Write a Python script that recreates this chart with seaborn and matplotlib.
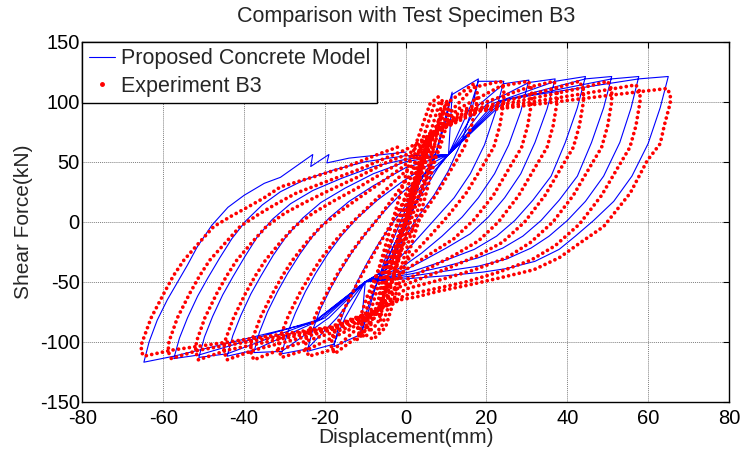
import matplotlib
matplotlib.use("Agg")
import matplotlib.pyplot as plt
import seaborn as sns
import pandas as pd
from matplotlib.lines import Line2D

# ---------------- data ----------------
# Model (blue): peaks of each displacement level
model_pos_peaks = [(3.5, 38), (7, 52), (11.5, 108), (18, 119), (24.3, 117), (30.5, 118),
                   (37, 119), (44.5, 121), (51, 121), (57.7, 121), (65, 121)]
model_neg_peaks = [(-3.5, -36), (-7, -50), (-11.2, -96), (-17.8, -104), (-24.4, -108), (-30.7, -110),
                   (-37.6, -109), (-44.2, -112), (-51.2, -113), (-57.4, -114), (-64.8, -117)]
# vertices before each positive peak (reloading)
model_pos_reload = [
    [(0, 0)], [], [(7, 52)],
    [(10.6, 56), (11.5, 106)],
    [(10.6, 56), (16, 96), (18, 117)],
    [(10.6, 56), (18, 97), (24.3, 115)],
    [(10.6, 56), (20, 98), (30.5, 116)],
    [(10.6, 56), (22, 99), (37, 117)],
    [(10.6, 56), (23, 100), (44.5, 119)],
    [(10.6, 56), (24, 101), (51, 119)],
    [(10.6, 56), (25, 102), (57.7, 119)],
]
# vertices after each positive peak (unloading)
model_pos_unload = [
    [(1.5, 15), (-0.5, -8), (-2, -22)],
    [(5, 35), (2.5, 15), (0, -5), (-3, -25), (-5, -40)],
    [(10, 85), (8, 62), (5.5, 40), (3, 20), (0, 0), (-3, -20), (-5, -36)],
    [(16.5, 95), (14, 68), (10.5, 42), (7, 22), (3, 4), (0, -12), (-3, -28), (-6, -42)],
    [(22.3, 92), (19.5, 64), (16, 40), (12, 20), (8, 5), (4, -10), (0, -25), (-4, -38)],
    [(28.5, 92), (25.5, 64), (22, 40), (18, 20), (14, 4), (9, -12), (4, -26), (-1, -38)],
    [(35, 94), (32, 66), (28.5, 40), (24.5, 20), (20.5, 4), (16, -10), (10, -22), (4, -33), (0, -40)],
    [(42.5, 95), (39.5, 66), (36, 38), (31.5, 18), (27, 1), (22.5, -12), (17, -23), (10, -32), (2, -41)],
    [(49, 95), (46, 66), (42.5, 38), (38, 18), (33.5, 1), (29, -12), (24, -22), (18, -30), (10, -37), (2, -43)],
    [(55.8, 95), (53, 66), (49, 38), (44.5, 17), (40, 1), (35.5, -12), (31, -22), (25, -31), (18, -37),
     (10, -41), (2, -45)],
    [(63, 95), (60, 65), (56, 38), (51.5, 17), (46.5, 1), (42, -12), (38, -23), (32, -33), (25, -39),
     (19, -42), (10, -45), (2, -47)],
]
# vertices before each negative peak (reloading)
model_neg_reload = [
    [], [], [(-7, -50)],
    [(-10, -50), (-11.2, -94)],
    [(-10, -50), (-15, -80), (-17.8, -102)],
    [(-10, -50), (-17, -80), (-24.4, -106)],
    [(-10, -50), (-19, -80), (-30.7, -108)],
    [(-10, -50), (-20, -80), (-37.6, -107)],
    [(-10, -50), (-21, -81), (-44.2, -110)],
    [(-10, -50), (-22, -82), (-51.2, -111)],
    [(-10, -50), (-23, -84), (-57.4, -112)],
]
# vertices after each negative peak (unloading)
model_neg_unload = [
    [(-1.5, -12), (0.5, 10), (2, 25)],
    [(-5, -30), (-2.5, -10), (0, 10), (3, 30), (5, 42)],
    [(-10, -78), (-8, -58), (-5.5, -38), (-3, -20), (0, 0), (3, 18), (6, 34), (8, 45)],
    [(-16.5, -86), (-14.5, -68), (-12, -50), (-9.5, -34), (-6.5, -17), (-3, 0), (1, 18), (5, 34), (8, 46)],
    [(-23, -90), (-21, -72), (-18.5, -55), (-16, -40), (-13, -24), (-9.5, -8), (-5.5, 8), (-1, 24), (4, 38),
     (8, 48)],
    [(-29.3, -93), (-27.3, -76), (-24.8, -58), (-22.3, -43), (-19.3, -27), (-16, -12), (-12, 3), (-7, 18),
     (-1, 33), (5, 46)],
    [(-36.2, -92), (-34.2, -75), (-31.7, -58), (-29.2, -43), (-26.2, -27), (-23, -12), (-19, 3), (-14, 17),
     (-8, 30), (0, 45)],
    [(-42.8, -95), (-40.8, -78), (-38.3, -60), (-35.8, -45), (-32.8, -28), (-29.5, -12), (-25.5, 3),
     (-21, 16), (-15, 28), (-8, 40), (0, 50)],
    [(-49.8, -96), (-47.8, -79), (-45.3, -61), (-42.8, -46), (-39.8, -29), (-36.8, -13), (-33, 2),
     (-28.5, 15), (-23, 26), (-16, 36), (-8, 46), (0, 52)],
    [(-56, -97), (-54, -80), (-51.5, -62), (-49, -47), (-46, -30), (-43, -14), (-39.5, 1), (-35.5, 14),
     (-31, 25), (-25, 35), (-18, 43), (-10, 50), (0, 55)],
    [(-63.5, -100), (-61.5, -82), (-59, -65), (-56.6, -51), (-54, -36), (-51.6, -21), (-48, -3), (-44, 12),
     (-40, 22), (-35, 32), (-31, 37), (-23, 56), (-23.5, 46), (-19, 56), (-19.5, 49), (-14, 53), (0, 58)],
]

# Experiment B3 (red)
exp_pos_peaks = [(3, 45), (5.3, 68), (10.3, 101), (16.9, 115), (23.5, 117), (30.4, 117),
                 (36.7, 117), (43, 117), (50, 117), (57, 114), (64.7, 111)]
exp_neg_peaks = [(-3, -45), (-6.2, -82), (-11.2, -96), (-17.6, -110), (-24, -112), (-30.7, -113),
                 (-37.6, -115), (-44.2, -115), (-51.3, -115), (-58, -114), (-64.8, -112)]
exp_pos_reload = [
    [(0, 0)], [], [(5.5, 64)],
    [(8, 80), (10.3, 99)],
    [(6, 68), (12, 95), (16.9, 112)],
    [(6, 70), (13, 94), (23.5, 113)],
    [(6, 70), (14, 93), (30.4, 112)],
    [(6, 72), (15, 92), (36.7, 111)],
    [(6, 72), (16, 92), (43, 111)],
    [(6, 72), (17, 92), (50, 110)],
    [(6, 72), (18, 92), (57, 108)],
]
exp_pos_unload = [
    [(1.5, 25), (0, 5), (-1.5, -15), (-2.5, -32)],
    [(5.5, 60), (4.5, 45), (2.5, 25), (0, 0), (-2.5, -25), (-4.5, -45), (-5.5, -60)],
    [(10.8, 94), (10.3, 82), (8.5, 62), (6, 42), (3, 20), (0, 0), (-2.5, -20), (-5, -40), (-6.5, -58)],
    [(17.7, 108), (17.5, 98), (16.3, 80), (14.5, 62), (11.5, 45), (8, 25), (4, 5), (0, -15), (-3, -35),
     (-5.5, -55)],
    [(24.3, 110), (24.3, 100), (23.3, 80), (21.8, 62), (18.8, 45), (15, 24), (10.5, 5), (6, -12), (1, -30),
     (-3, -45), (-5.5, -60)],
    [(31.2, 110), (31.2, 100), (30.2, 80), (28.7, 62), (25.7, 45), (21.7, 22), (17, 2), (12, -14), (6, -27),
     (0, -40), (-4, -52)],
    [(37.5, 110), (37.5, 100), (36.5, 80), (35, 62), (32, 45), (28, 22), (23, 0), (18, -16), (12, -28),
     (5, -40), (-2, -52)],
    [(44, 110), (44, 100), (43, 80), (41.5, 62), (38.5, 45), (34.5, 22), (29.5, 0), (24, -17), (18, -28),
     (11, -38), (4, -47), (-2, -55)],
    [(51, 110), (51, 100), (50, 80), (48.5, 62), (45.5, 45), (41.5, 22), (36.5, 0), (31, -17), (25, -30),
     (17, -40), (9, -48), (0, -56)],
    [(58, 108), (58, 100), (57, 80), (55.5, 62), (52.5, 45), (48.5, 22), (43, -2), (37, -20), (31, -32),
     (23, -42), (15, -50), (7, -56), (0, -61)],
    [(65.5, 106), (65.5, 99), (64, 80), (63, 65), (59.8, 51), (55.6, 24), (49, -4), (43, -18), (38, -30),
     (31.7, -40), (23, -47), (15.2, -53), (8, -58), (2.8, -62.5), (-1.3, -65)],
]
exp_neg_reload = [
    [], [], [(-6, -72)],
    [(-7, -75), (-11.2, -94)],
    [(-7, -74), (-13, -92), (-17.6, -106)],
    [(-7, -74), (-14, -90), (-24, -106)],
    [(-7, -74), (-15, -89), (-30.7, -106)],
    [(-7, -74), (-16, -88), (-37.6, -107)],
    [(-7, -74), (-17, -88), (-44.2, -107)],
    [(-6, -72), (-18, -88), (-51.3, -107)],
    [(-6, -72), (-19, -88), (-58, -107)],
]
exp_neg_unload = [
    [(-1.5, -22), (0, 0), (1.5, 22)],
    [(-6.5, -76), (-5.8, -62), (-4, -42), (-2, -20), (0, 0), (2, 22), (3.8, 42), (4.8, 55)],
    [(-11.8, -90), (-11.5, -82), (-9.5, -62), (-7, -42), (-4.5, -22), (-2, -2), (0.5, 18), (3, 38), (5, 55)],
    [(-18.4, -104), (-18.2, -96), (-16, -78), (-13, -58), (-10.5, -42), (-8, -27), (-5, -10), (-2, 8),
     (1, 26), (4, 44), (6.5, 60)],
    [(-24.8, -105), (-24.6, -97), (-22.3, -78), (-19.3, -58), (-16.8, -43), (-14, -28), (-10.5, -12),
     (-7, 2), (-3.5, 18), (0, 34), (3, 48), (5.5, 60)],
    [(-31.5, -106), (-31.3, -98), (-29, -78), (-26, -58), (-23.5, -44), (-21, -31), (-17.5, -16), (-14, -3),
     (-10, 10), (-6, 23), (-2, 36), (2, 48), (5, 60)],
    [(-38.4, -108), (-38.2, -100), (-36, -80), (-33, -60), (-30.5, -45), (-28, -32), (-24.5, -17),
     (-21, -4), (-16.5, 8), (-11.5, 20), (-6, 33), (-1, 45), (3, 56)],
    [(-45, -108), (-44.8, -100), (-42.6, -80), (-39.7, -60), (-37.2, -45), (-34.7, -32), (-31, -17),
     (-27.5, -4), (-23, 7), (-18, 17), (-12, 28), (-6, 40), (0, 52), (3, 58)],
    [(-52, -108), (-51.8, -100), (-49.7, -80), (-46.8, -60), (-44.3, -45), (-41.8, -32), (-38, -17),
     (-34.5, -4), (-30, 7), (-25, 16), (-19, 26), (-12, 37), (-5, 49), (1, 57)],
    [(-58.8, -108), (-58.6, -100), (-56.5, -80), (-53.5, -60), (-51, -45), (-48.5, -32), (-44.5, -17),
     (-41, -4), (-36.5, 6), (-32.5, 14), (-27, 24), (-20, 33), (-12, 43), (-5, 53), (0, 60)],
    [(-65.5, -108), (-65.3, -101), (-63, -80), (-59.9, -60), (-57.5, -45), (-54.9, -32), (-51, -17),
     (-47.5, -4), (-43, 5), (-39.2, 12), (-35, 20), (-31, 29), (-22.7, 37.5), (-14.5, 46), (-6.2, 57),
     (-1.3, 63)],
]
# extra narrow experimental cycles forming the steep band through the origin
exp_center_cycles = [
    [(-12, -98), (-8, -55), (-3.3, 0), (1, 50), (6, 98), (8, 104), (10.5, 96), (7.5, 55), (3.2, 0),
     (-1, -45), (-5, -88), (-8, -98), (-11, -92)],
    [(-9, -90), (-5, -45), (-0.5, 0), (3.5, 45), (8, 95), (9.5, 92), (5.5, 45), (1.2, 0), (-3, -45),
     (-7, -85), (-9.5, -93)],
    [(-10.5, -95), (-6.5, -50), (-2, 0), (2.2, 48), (7, 97), (9, 100), (6.5, 52), (2.2, 0), (-2, -48),
     (-6, -88), (-8.5, -95)],
    [(-6, -70), (-3.5, -35), (-1, 0), (2, 35), (5, 70), (6, 74), (3.5, 38), (0.8, 0), (-2, -35), (-5, -70)],
]

x_ticks = [-80, -60, -40, -20, 0, 20, 40, 60, 80]
y_ticks = [-150, -100, -50, 0, 50, 100, 150]


def build_path(pos_reload, pos_peaks, pos_unload, neg_reload, neg_peaks, neg_unload):
    pts = []
    for k in range(len(pos_peaks)):
        pts += pos_reload[k] + [pos_peaks[k]] + pos_unload[k]
        pts += neg_reload[k] + [neg_peaks[k]] + neg_unload[k]
    return pd.DataFrame(pts, columns=["disp", "force"])


model_df = build_path(model_pos_reload, model_pos_peaks, model_pos_unload,
                      model_neg_reload, model_neg_peaks, model_neg_unload)
exp_df = build_path(exp_pos_reload, exp_pos_peaks, exp_pos_unload,
                    exp_neg_reload, exp_neg_peaks, exp_neg_unload)

# ---------------- drawing ----------------
sns.set_style("white")
plt.rcParams["font.family"] = ["Liberation Sans", "DejaVu Sans"]
plt.rcParams["axes.unicode_minus"] = False

fig, ax = plt.subplots(figsize=(7.43, 4.53), dpi=100)
fig.subplots_adjust(left=0.111, right=0.981, top=0.908, bottom=0.113)

sns.lineplot(data=model_df, x="disp", y="force", sort=False, estimator=None,
             color="#0000ff", linewidth=0.8, ax=ax)
red_style = dict(color="#ff0000", linewidth=2.7, linestyle=(0, (0.01, 1.45)),
                 dash_capstyle="round")
sns.lineplot(data=exp_df, x="disp", y="force", sort=False, estimator=None, ax=ax, **red_style)
for cyc in exp_center_cycles:
    cdf = pd.DataFrame(cyc, columns=["disp", "force"])
    sns.lineplot(data=cdf, x="disp", y="force", sort=False, estimator=None, ax=ax, **red_style)

ax.set_xlim(-80, 80)
ax.set_ylim(-150, 150)
ax.set_xticks(x_ticks)
ax.set_yticks(y_ticks)
ax.grid(True, color="#808080", linestyle=(0, (1, 1)), linewidth=0.7)
ax.set_axisbelow(True)
ax.tick_params(direction="in", top=True, right=True, length=4, width=0.8,
               labelsize=14.5, colors="black")
ax.tick_params(axis="x", pad=5)
ax.tick_params(axis="y", pad=2)
for s in ax.spines.values():
    s.set_linewidth(1.0)
    s.set_color("black")

ax.set_title("Comparison with Test Specimen B3", fontsize=15.5, pad=14)
ax.set_xlabel("Displacement(mm)", fontsize=15, labelpad=0)
ax.set_ylabel("Shear Force(kN)", fontsize=15, labelpad=5)

handles = [Line2D([0], [0], color="#0000ff", lw=0.8),
           Line2D([0], [0], color="#ff0000", marker="o", markersize=2.5, ls="none")]
leg = ax.legend(handles, ["Proposed Concrete Model", "Experiment B3"], loc="upper left",
                bbox_to_anchor=(0, 1), borderaxespad=0, fontsize=15.5, frameon=True,
                fancybox=False, framealpha=1, edgecolor="black", handlelength=1.2,
                handletextpad=0.3, borderpad=0.3, labelspacing=0.3)
leg.get_frame().set_linewidth(1.0)

fig.savefig("out.png", dpi=100)
